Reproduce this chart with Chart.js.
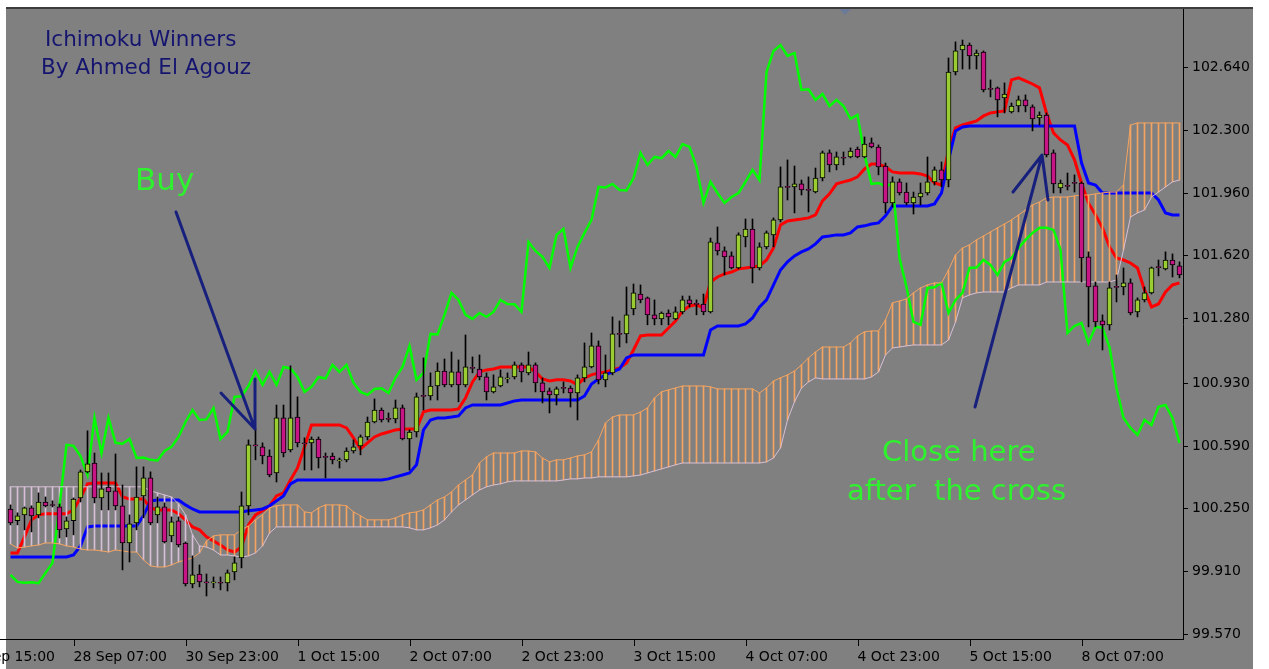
<!DOCTYPE html>
<html>
<head>
<meta charset="utf-8">
<title>Ichimoku Winners</title>
<script src="https://cdn.jsdelivr.net/npm/chart.js@4.4.1/dist/chart.umd.min.js"></script>
<style>
    html, body { margin: 0; padding: 0; background: #ffffff; }
    canvas { display: block; }
</style>
</head>
<body>
<canvas id="chart" width="1269" height="669"></canvas>
<script>
// H1 bars, index 0 .. 167 (left to right)
const opens = [
    100.247, 100.183, 100.215, 100.253, 100.215, 100.285, 100.269, 100.258, 100.139, 100.183,
    100.307, 100.448, 100.496, 100.307, 100.366, 100.345, 100.264, 100.063, 100.172, 100.318,
    100.415, 100.215, 100.258, 100.101, 100.183, 100.063, 99.841, 99.895, 99.849, 99.847,
    99.848, 99.847, 99.906, 99.982, 100.264, 100.594, 100.583, 100.534, 100.442, 100.740,
    100.567, 100.745, 100.605, 100.605, 100.626, 100.529, 100.534, 100.507, 100.513, 100.561,
    100.588, 100.637, 100.718, 100.783, 100.734, 100.734, 100.794, 100.626, 100.664, 100.859,
    100.859, 100.913, 100.994, 100.919, 100.989, 100.919, 101.011, 101.005, 100.962, 100.881,
    100.913, 100.951, 100.962, 101.027, 100.984, 101.027, 100.930, 100.886, 100.865, 100.902,
    100.902, 100.875, 100.957, 101.016, 101.130, 100.946, 100.984, 101.195, 101.195, 101.330,
    101.411, 101.390, 101.298, 101.276, 101.308, 101.276, 101.314, 101.379, 101.357, 101.357,
    101.314, 101.688, 101.644, 101.617, 101.552, 101.720, 101.763, 101.552, 101.666, 101.731,
    101.812, 101.991, 101.991, 102.007, 101.974, 101.963, 102.039, 102.175, 102.110, 102.148,
    102.153, 102.196, 102.153, 102.229, 102.207, 102.104, 101.904, 102.018, 101.963, 101.904,
    101.936, 101.958, 102.018, 102.083, 102.028, 102.613, 102.732, 102.759, 102.700, 102.721,
    102.521, 102.527, 102.472, 102.397, 102.429, 102.462, 102.424, 102.364, 102.380, 102.175,
    101.985, 101.996, 102.012, 102.012, 101.612, 101.455, 101.265, 101.244, 101.449, 101.449,
    101.471, 101.314, 101.379, 101.417, 101.557, 101.547, 101.595, 101.563
];
const highs = [
    100.269, 100.226, 100.258, 100.264, 100.334, 100.312, 100.291, 100.274, 100.204, 100.307,
    100.458, 100.670, 100.550, 100.442, 100.442, 100.545, 100.377, 100.215, 100.475, 100.475,
    100.448, 100.312, 100.280, 100.204, 100.204, 100.069, 99.993, 99.944, 99.895, 99.879,
    99.879, 99.917, 99.987, 100.339, 100.621, 100.680, 100.605, 100.567, 100.810, 100.810,
    101.022, 100.854, 100.632, 100.637, 100.637, 100.550, 100.550, 100.523, 100.578, 100.621,
    100.648, 100.745, 100.843, 100.794, 100.767, 100.837, 100.810, 100.675, 100.875, 101.065,
    100.984, 101.038, 101.059, 101.097, 101.054, 101.189, 101.070, 101.081, 100.984, 100.973,
    101.000, 100.984, 101.043, 101.038, 101.097, 101.038, 100.957, 100.902, 100.908, 100.935,
    100.913, 100.973, 101.146, 101.200, 101.157, 101.081, 101.287, 101.265, 101.449, 101.465,
    101.460, 101.395, 101.379, 101.314, 101.325, 101.341, 101.400, 101.400, 101.379, 101.411,
    101.714, 101.774, 101.666, 101.639, 101.742, 101.817, 101.817, 101.688, 101.752, 101.823,
    102.099, 102.137, 102.104, 102.028, 102.045, 102.093, 102.185, 102.191, 102.180, 102.180,
    102.202, 102.207, 102.261, 102.256, 102.218, 102.120, 102.045, 102.034, 102.012, 101.963,
    102.012, 102.153, 102.099, 102.126, 102.689, 102.776, 102.786, 102.770, 102.732, 102.727,
    102.570, 102.532, 102.554, 102.445, 102.483, 102.489, 102.435, 102.397, 102.391, 102.191,
    102.028, 102.066, 102.056, 102.018, 101.639, 101.476, 101.298, 101.476, 101.514, 101.552,
    101.493, 101.390, 101.449, 101.557, 101.595, 101.639, 101.628, 101.585
];
const lows = [
    100.161, 100.161, 100.134, 100.123, 100.199, 100.258, 100.258, 100.090, 100.096, 100.107,
    100.285, 100.442, 100.280, 100.242, 100.242, 100.242, 99.917, 99.960, 100.134, 100.199,
    100.161, 100.172, 100.063, 100.069, 100.041, 99.830, 99.820, 99.825, 99.776, 99.820,
    99.809, 99.803, 99.863, 99.928, 100.215, 100.513, 100.491, 100.421, 100.393, 100.529,
    100.556, 100.583, 100.458, 100.458, 100.469, 100.415, 100.491, 100.469, 100.502, 100.550,
    100.540, 100.621, 100.713, 100.718, 100.718, 100.713, 100.621, 100.458, 100.637, 100.783,
    100.837, 100.837, 100.908, 100.908, 100.827, 100.908, 100.984, 100.946, 100.837, 100.875,
    100.908, 100.930, 100.951, 100.935, 100.973, 100.881, 100.821, 100.767, 100.810, 100.875,
    100.799, 100.729, 100.935, 101.011, 100.924, 100.908, 100.973, 101.124, 101.146, 101.298,
    101.363, 101.244, 101.244, 101.244, 101.244, 101.271, 101.303, 101.341, 101.298, 101.298,
    101.308, 101.622, 101.514, 101.547, 101.547, 101.666, 101.471, 101.541, 101.655, 101.666,
    101.801, 101.920, 101.850, 101.947, 101.855, 101.958, 102.023, 102.072, 102.083, 102.110,
    102.148, 102.148, 102.148, 102.202, 102.056, 101.850, 101.882, 101.947, 101.893, 101.844,
    101.893, 101.947, 102.001, 101.991, 101.991, 102.597, 102.629, 102.629, 102.629, 102.505,
    102.478, 102.370, 102.391, 102.391, 102.397, 102.397, 102.294, 102.326, 102.153, 101.958,
    101.958, 101.974, 101.963, 101.476, 101.233, 101.233, 101.108, 101.216, 101.368, 101.406,
    101.298, 101.287, 101.368, 101.411, 101.509, 101.541, 101.503, 101.498
];
const closes = [
    100.172, 100.210, 100.253, 100.210, 100.285, 100.264, 100.266, 100.134, 100.183, 100.301,
    100.448, 100.491, 100.307, 100.356, 100.339, 100.264, 100.063, 100.166, 100.312, 100.415,
    100.172, 100.258, 100.069, 100.177, 100.052, 99.841, 99.890, 99.852, 99.847, 99.850,
    99.845, 99.901, 99.955, 100.264, 100.594, 100.589, 100.534, 100.431, 100.740, 100.550,
    100.740, 100.605, 100.600, 100.626, 100.523, 100.526, 100.513, 100.510, 100.561, 100.583,
    100.637, 100.718, 100.783, 100.729, 100.732, 100.794, 100.626, 100.664, 100.854, 100.857,
    100.913, 100.994, 100.919, 100.989, 100.919, 101.016, 101.008, 100.962, 100.881, 100.908,
    100.962, 100.953, 101.027, 100.989, 101.027, 100.930, 100.881, 100.865, 100.897, 100.900,
    100.875, 100.957, 101.016, 101.130, 100.946, 100.984, 101.195, 101.192, 101.298, 101.417,
    101.379, 101.298, 101.276, 101.308, 101.287, 101.314, 101.379, 101.357, 101.355, 101.314,
    101.693, 101.644, 101.612, 101.552, 101.731, 101.763, 101.552, 101.666, 101.742, 101.812,
    101.991, 101.988, 102.007, 101.974, 101.972, 102.039, 102.175, 102.110, 102.153, 102.146,
    102.185, 102.153, 102.223, 102.207, 102.099, 101.904, 102.018, 101.958, 101.904, 101.936,
    101.958, 102.018, 102.083, 102.028, 102.613, 102.727, 102.759, 102.700, 102.716, 102.516,
    102.519, 102.462, 102.494, 102.429, 102.462, 102.429, 102.359, 102.380, 102.164, 102.007,
    102.012, 101.994, 102.010, 101.606, 101.449, 101.260, 101.244, 101.444, 101.447, 101.471,
    101.308, 101.379, 101.417, 101.552, 101.554, 101.595, 101.568, 101.514
];

// Ichimoku lines, one value per bar
const tenkan = [
    100.009, 100.009, 100.096, 100.188, 100.215, 100.221, 100.221, 100.221, 100.221, 100.242,
    100.307, 100.383, 100.388, 100.388, 100.388, 100.388, 100.312, 100.301, 100.301, 100.301,
    100.253, 100.242, 100.242, 100.242, 100.221, 100.188, 100.150, 100.134, 100.096, 100.074,
    100.052, 100.025, 100.014, 100.041, 100.161, 100.215, 100.237, 100.264, 100.318, 100.334,
    100.404, 100.469, 100.583, 100.702, 100.702, 100.702, 100.702, 100.702, 100.686, 100.632,
    100.572, 100.605, 100.637, 100.653, 100.664, 100.675, 100.680, 100.680, 100.680, 100.773,
    100.783, 100.783, 100.783, 100.783, 100.789, 100.848, 100.935, 100.989, 101.000, 101.005,
    101.016, 101.016, 101.016, 101.016, 101.016, 100.989, 100.951, 100.940, 100.946, 100.946,
    100.940, 100.919, 100.957, 100.973, 100.984, 100.989, 101.000, 101.011, 101.038, 101.108,
    101.184, 101.189, 101.189, 101.189, 101.227, 101.265, 101.319, 101.346, 101.352, 101.336,
    101.476, 101.503, 101.520, 101.530, 101.547, 101.552, 101.557, 101.563, 101.595, 101.660,
    101.785, 101.806, 101.812, 101.817, 101.823, 101.839, 101.915, 101.953, 102.007, 102.018,
    102.028, 102.045, 102.088, 102.115, 102.115, 102.099, 102.072, 102.066, 102.066, 102.066,
    102.061, 102.050, 102.012, 102.001, 102.191, 102.310, 102.326, 102.337, 102.348, 102.375,
    102.391, 102.397, 102.402, 102.570, 102.581, 102.565, 102.548, 102.527, 102.391, 102.283,
    102.245, 102.218, 102.137, 102.012, 101.904, 101.839, 101.769, 101.666, 101.606, 101.595,
    101.579, 101.552, 101.433, 101.341, 101.357, 101.422, 101.460, 101.471
];
const kijun = [
    99.987, 99.987, 99.987, 99.987, 99.987, 99.987, 99.987, 99.987, 99.987, 99.998,
    100.047, 100.150, 100.155, 100.155, 100.155, 100.155, 100.155, 100.155, 100.155, 100.210,
    100.291, 100.296, 100.296, 100.296, 100.296, 100.269, 100.247, 100.231, 100.231, 100.231,
    100.231, 100.231, 100.231, 100.231, 100.237, 100.242, 100.247, 100.264, 100.291, 100.318,
    100.383, 100.404, 100.404, 100.404, 100.404, 100.404, 100.404, 100.404, 100.404, 100.404,
    100.404, 100.404, 100.404, 100.404, 100.410, 100.421, 100.431, 100.442, 100.486, 100.675,
    100.729, 100.740, 100.740, 100.745, 100.751, 100.794, 100.810, 100.810, 100.810, 100.810,
    100.810, 100.821, 100.832, 100.837, 100.837, 100.837, 100.837, 100.837, 100.837, 100.837,
    100.837, 100.837, 100.859, 100.924, 100.951, 100.973, 100.989, 101.005, 101.065, 101.081,
    101.081, 101.081, 101.081, 101.081, 101.081, 101.081, 101.081, 101.081, 101.081, 101.081,
    101.216, 101.238, 101.238, 101.238, 101.238, 101.249, 101.281, 101.341, 101.379, 101.460,
    101.541, 101.585, 101.617, 101.639, 101.655, 101.682, 101.720, 101.725, 101.731, 101.731,
    101.742, 101.774, 101.780, 101.790, 101.796, 101.834, 101.888, 101.888, 101.888, 101.888,
    101.888, 101.888, 101.899, 101.958, 102.137, 102.294, 102.315, 102.321, 102.321, 102.321,
    102.321, 102.321, 102.321, 102.321, 102.321, 102.321, 102.321, 102.321, 102.321, 102.321,
    102.321, 102.321, 102.321, 102.121, 102.012, 102.001, 101.958, 101.958, 101.958, 101.958,
    101.958, 101.958, 101.958, 101.958, 101.920, 101.850, 101.839, 101.839
];
const chikou = [
    99.890, 99.852, 99.847, 99.850, 99.845, 99.901, 99.955, 100.264, 100.594, 100.589,
    100.534, 100.431, 100.740, 100.550, 100.740, 100.605, 100.600, 100.626, 100.523, 100.526,
    100.513, 100.510, 100.561, 100.583, 100.637, 100.718, 100.783, 100.729, 100.732, 100.794,
    100.626, 100.664, 100.854, 100.857, 100.913, 100.994, 100.919, 100.989, 100.919, 101.016,
    101.008, 100.962, 100.881, 100.908, 100.962, 100.953, 101.027, 100.989, 101.027, 100.930,
    100.881, 100.865, 100.897, 100.900, 100.875, 100.957, 101.016, 101.130, 100.946, 100.984,
    101.195, 101.192, 101.298, 101.417, 101.379, 101.298, 101.276, 101.308, 101.287, 101.314,
    101.379, 101.357, 101.355, 101.314, 101.693, 101.644, 101.612, 101.552, 101.731, 101.763,
    101.552, 101.666, 101.742, 101.812, 101.991, 101.988, 102.007, 101.974, 101.972, 102.039,
    102.175, 102.110, 102.153, 102.146, 102.185, 102.153, 102.223, 102.207, 102.099, 101.904,
    102.018, 101.958, 101.904, 101.936, 101.958, 102.018, 102.083, 102.028, 102.613, 102.727,
    102.759, 102.700, 102.716, 102.516, 102.519, 102.462, 102.494, 102.429, 102.462, 102.429,
    102.359, 102.380, 102.164, 102.007, 102.012, 101.994, 102.010, 101.606, 101.449, 101.260,
    101.244, 101.444, 101.447, 101.471, 101.308, 101.379, 101.417, 101.552, 101.554, 101.595,
    101.568, 101.514, 101.585, 101.606, 101.660, 101.704, 101.742, 101.769, 101.769, 101.758,
    101.650, 101.200, 101.238, 101.254, 101.146, 101.233, 101.227, 101.124, 100.902, 100.740,
    100.686, 100.648, 100.729, 100.702, 100.800, 100.810, 100.740, 100.605
];
const senkouA = [
    100.058, 100.036, 100.041, 100.047, 100.052, 100.063, 100.063, 100.058, 100.047, 100.041,
    100.030, 100.025, 100.025, 100.020, 100.014, 100.025, 100.020, 100.014, 100.014, 99.971,
    99.939, 99.933, 99.933, 99.944, 99.960, 99.971, 99.982, 100.009, 100.074, 100.101,
    100.107, 100.107, 100.107, 100.134, 100.155, 100.188, 100.215, 100.253, 100.264, 100.269,
    100.269, 100.269, 100.231, 100.226, 100.253, 100.269, 100.269, 100.269, 100.264, 100.231,
    100.210, 100.188, 100.188, 100.188, 100.188, 100.199, 100.215, 100.226, 100.231, 100.242,
    100.269, 100.296, 100.312, 100.339, 100.377, 100.404, 100.431, 100.496, 100.529, 100.550,
    100.550, 100.550, 100.550, 100.561, 100.561, 100.556, 100.523, 100.502, 100.513, 100.513,
    100.523, 100.534, 100.540, 100.556, 100.621, 100.713, 100.745, 100.756, 100.756, 100.756,
    100.772, 100.794, 100.848, 100.881, 100.892, 100.902, 100.913, 100.913, 100.913, 100.913,
    100.908, 100.897, 100.897, 100.897, 100.897, 100.897, 100.897, 100.875, 100.902, 100.940,
    100.957, 100.973, 100.994, 101.027, 101.065, 101.097, 101.124, 101.124, 101.124, 101.124,
    101.146, 101.184, 101.206, 101.211, 101.211, 101.271, 101.363, 101.373, 101.384, 101.417,
    101.444, 101.460, 101.471, 101.471, 101.541, 101.622, 101.660, 101.677, 101.704, 101.725,
    101.747, 101.769, 101.790, 101.812, 101.839, 101.866, 101.893, 101.909, 101.931, 101.936,
    101.936, 101.936, 101.942, 101.947, 101.947, 101.953, 101.958, 101.963, 101.963, 102.001,
    102.326, 102.337, 102.337, 102.337, 102.337, 102.337, 102.337, 102.337
];
const senkouB = [
    100.367, 100.367, 100.367, 100.367, 100.367, 100.367, 100.367, 100.367, 100.367, 100.367,
    100.367, 100.367, 100.367, 100.367, 100.367, 100.367, 100.367, 100.367, 100.367, 100.367,
    100.345, 100.334, 100.323, 100.312, 100.274, 100.215, 100.107, 100.047, 100.041, 100.025,
    99.998, 99.998, 99.993, 99.987, 99.993, 100.009, 100.047, 100.117, 100.150, 100.150,
    100.150, 100.150, 100.150, 100.150, 100.150, 100.150, 100.150, 100.150, 100.150, 100.150,
    100.150, 100.150, 100.150, 100.150, 100.150, 100.150, 100.150, 100.145, 100.134, 100.134,
    100.145, 100.161, 100.188, 100.231, 100.269, 100.296, 100.323, 100.350, 100.367, 100.377,
    100.383, 100.394, 100.399, 100.399, 100.399, 100.399, 100.399, 100.399, 100.399, 100.404,
    100.410, 100.410, 100.415, 100.415, 100.421, 100.421, 100.421, 100.421, 100.421, 100.426,
    100.431, 100.442, 100.453, 100.464, 100.475, 100.486, 100.496, 100.496, 100.496, 100.496,
    100.496, 100.496, 100.496, 100.496, 100.496, 100.496, 100.496, 100.496, 100.502, 100.523,
    100.578, 100.729, 100.827, 100.902, 100.935, 100.957, 100.951, 100.951, 100.951, 100.951,
    100.951, 100.951, 100.951, 100.962, 100.989, 101.081, 101.119, 101.124, 101.130, 101.135,
    101.135, 101.135, 101.135, 101.135, 101.162, 101.260, 101.390, 101.406, 101.417, 101.422,
    101.422, 101.422, 101.422, 101.444, 101.460, 101.460, 101.460, 101.460, 101.476, 101.476,
    101.476, 101.476, 101.476, 101.476, 101.476, 101.476, 101.476, 101.476, 101.487, 101.650,
    101.828, 101.850, 101.866, 101.936, 101.963, 101.991, 102.018, 102.028
];

// axis ticks
const timeTicks = [-7, 9, 25, 41, 57, 73, 89, 105, 121, 137, 153];
const timeLabels = ['27 Sep 15:00', '28 Sep 07:00', '30 Sep 23:00', '1 Oct 15:00', '2 Oct 07:00',
    '2 Oct 23:00', '3 Oct 15:00', '4 Oct 07:00', '4 Oct 23:00', '5 Oct 15:00', '8 Oct 07:00'];
const priceTicks = [99.57, 99.91, 100.25, 100.59, 100.93, 101.28, 101.62, 101.96, 102.30, 102.64];

const BULL = '#9ACD32';
const BEAR = '#C71585';
const SANDY = '#F4A460';
const THISTLE = '#D8BFD8';
const FONT = '"DejaVu Sans", Verdana, sans-serif';

function points(values) {
    return values.map((v, i) => ({x: i, y: v}));
}

function arrow(ctx, from, tip, barbs) {
    ctx.beginPath();
    ctx.moveTo(from[0], from[1]);
    ctx.lineTo(tip[0], tip[1]);
    barbs.forEach(b => {
        ctx.moveTo(b[0], b[1]);
        ctx.lineTo(tip[0], tip[1]);
    });
    ctx.stroke();
}

// MT4 style window, axes and the hand drawn notes
const terminal = {
    id: 'terminal',
    beforeDraw(chart) {
        const ctx = chart.ctx;
        ctx.save();
        ctx.fillStyle = '#ffffff';
        ctx.fillRect(0, 0, chart.width, chart.height);
        ctx.fillStyle = '#808080';
        ctx.fillRect(6, 8, 1247, chart.height - 8);
        ctx.fillStyle = '#3c3c3c';
        ctx.fillRect(6, 7, 1247, 2);
        ctx.restore();
    },
    afterDraw(chart) {
        const ctx = chart.ctx;
        const area = chart.chartArea;
        const xs = chart.scales.x;
        const ys = chart.scales.y;
        ctx.save();

        ctx.strokeStyle = '#000000';
        ctx.lineWidth = 1;
        ctx.beginPath();
        ctx.moveTo(0, area.bottom + 0.5);
        ctx.lineTo(area.right + 1, area.bottom + 0.5);
        ctx.moveTo(area.right + 0.5, area.top);
        ctx.lineTo(area.right + 0.5, area.bottom + 1);
        ctx.stroke();

        ctx.font = '14px ' + FONT;
        ctx.fillStyle = '#000000';
        ctx.textAlign = 'left';
        ctx.textBaseline = 'middle';
        priceTicks.forEach(v => {
            const py = Math.round(ys.getPixelForValue(v)) + 0.5;
            ctx.beginPath();
            ctx.moveTo(area.right, py);
            ctx.lineTo(area.right + 5, py);
            ctx.stroke();
            ctx.fillText(v.toFixed(3), area.right + 9, py);
        });
        timeTicks.forEach((t, k) => {
            const px = Math.round(xs.getPixelForValue(t)) + 0.5;
            ctx.beginPath();
            ctx.moveTo(px, area.bottom);
            ctx.lineTo(px, area.bottom + 7);
            ctx.stroke();
            ctx.fillText(timeLabels[k], px - 1, area.bottom + 18);
        });

        // chart shift marker
        ctx.fillStyle = '#6c7a9a';
        ctx.beginPath();
        ctx.moveTo(839, 9);
        ctx.lineTo(851, 9);
        ctx.lineTo(845, 15);
        ctx.closePath();
        ctx.fill();

        // notes
        ctx.textBaseline = 'alphabetic';
        ctx.fillStyle = '#151570';
        ctx.font = '21.5px ' + FONT;
        ctx.fillText('Ichimoku Winners', 45, 46);
        ctx.fillText('By Ahmed El Agouz', 41, 74);

        ctx.fillStyle = '#2ef22e';
        ctx.font = '31px ' + FONT;
        ctx.fillText('Buy', 135, 190);
        ctx.font = '29px ' + FONT;
        ctx.fillText('Close here', 882, 461);
        ctx.fillText('after  the cross', 847, 500);

        ctx.strokeStyle = '#17207c';
        ctx.lineWidth = 3;
        ctx.lineCap = 'round';
        arrow(ctx, [176, 212], [255, 429], [[221, 393], [255, 379]]);
        arrow(ctx, [975, 407], [1042, 155], [[1013, 192], [1048, 200]]);

        ctx.restore();
    }
};

const ctx = document.getElementById('chart').getContext('2d');
new Chart(ctx, {
    type: 'bar',
    data: {
        datasets: [
            {
                type: 'line', label: 'Tenkan-sen', data: points(tenkan),
                borderColor: '#ff0000', borderWidth: 3, pointRadius: 0, order: 9
            },
            {
                type: 'line', label: 'Kijun-sen', data: points(kijun),
                borderColor: '#0000ff', borderWidth: 3, pointRadius: 0, order: 8
            },
            {
                type: 'bar', label: 'Kumo',
                data: senkouA.map((a, i) => ({x: i, y: [a, senkouB[i]]})),
                backgroundColor: senkouA.map((a, i) => a >= senkouB[i] ? SANDY : THISTLE),
                borderWidth: 0, barThickness: 1, grouped: false, order: 7
            },
            {
                type: 'line', label: 'Chikou Span', data: points(chikou),
                borderColor: '#00ff00', borderWidth: 2.5, pointRadius: 0, order: 6
            },
            {
                type: 'line', label: 'Senkou Span A', data: points(senkouA),
                borderColor: SANDY, borderWidth: 1, pointRadius: 0, order: 5
            },
            {
                type: 'line', label: 'Senkou Span B', data: points(senkouB),
                borderColor: THISTLE, borderWidth: 1, pointRadius: 0, order: 5
            },
            {
                type: 'bar', label: 'Shadows',
                data: lows.map((l, i) => ({x: i, y: [l, highs[i]]})),
                backgroundColor: '#000000', borderWidth: 0, barThickness: 1, grouped: false, order: 2
            },
            {
                type: 'bar', label: 'Bodies',
                data: opens.map((o, i) => ({x: i, y: [o, closes[i]]})),
                backgroundColor: closes.map((c, i) => c >= opens[i] ? BULL : BEAR),
                borderColor: '#000000', borderWidth: 1, borderSkipped: false,
                barThickness: 5, minBarLength: 1, grouped: false, order: 1
            }
        ]
    },
    options: {
        responsive: false,
        animation: false,
        devicePixelRatio: 1,
        events: [],
        layout: { padding: { left: 6, top: 9, right: 86, bottom: 30 } },
        scales: {
            x: { type: 'linear', min: -0.643, max: 167.5, offset: false, display: false },
            y: { type: 'linear', min: 99.543, max: 102.954, display: false }
        },
        plugins: {
            legend: { display: false },
            tooltip: { enabled: false }
        }
    },
    plugins: [terminal]
});
</script>
</body>
</html>
